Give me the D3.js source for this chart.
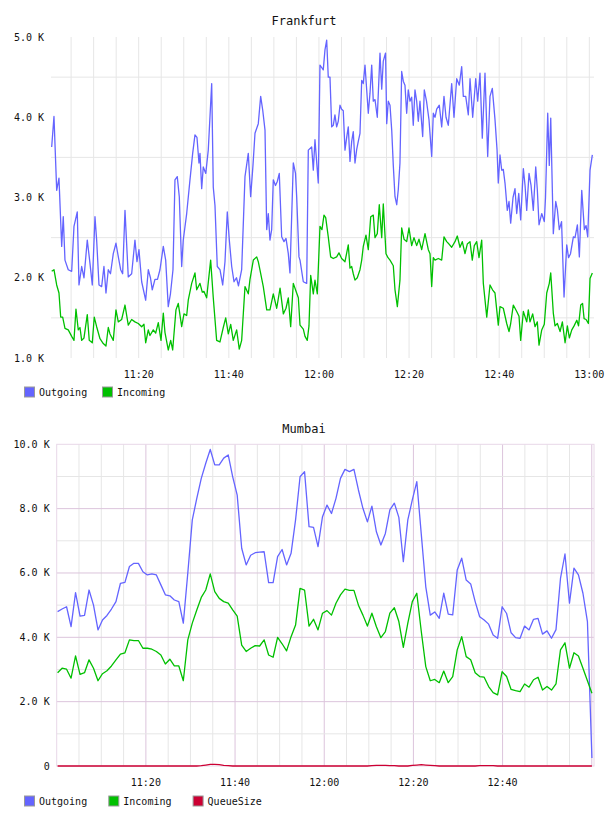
<!DOCTYPE html>
<html>
<head>
<meta charset="utf-8">
<script src="https://cdn.jsdelivr.net/npm/d3@7"></script>
<style>
  body { margin: 0; background: #fff; }
  svg text { font-family: "DejaVu Sans Mono", monospace; fill: #111; }
</style>
</head>
<body>
<svg id="chart" width="608" height="816"></svg>
<script>
// ---- data (values in thousands, times in minutes after 11:00) ----

const ffOutTime = [0.69,1.20,1.80,2.31,2.91,3.26,3.64,4.37,5.13,5.64,6.37,6.75,7.35,7.86,8.59,9.19,9.70,10.30,10.67,11.19,
  11.78,12.29,12.74,13.25,13.74,14.36,14.96,15.51,16.00,16.44,16.96,17.69,18.44,19.17,19.62,20.06,20.66,21.55,22.13,22.61,
  23.01,23.61,24.17,24.72,25.46,25.99,26.56,27.05,27.61,28.05,28.56,29.01,29.54,29.89,30.65,31.38,31.98,32.49,32.93,33.38,
  33.60,33.98,34.33,34.89,35.44,36.20,36.55,36.93,37.44,38.04,38.64,39.15,39.66,40.11,40.64,41.15,41.70,42.14,42.85,43.59,
  44.32,44.85,45.36,45.81,46.54,47.07,47.52,48.03,48.41,48.76,49.13,49.51,49.87,50.36,50.76,51.20,51.73,52.24,52.69,53.20,
  53.57,54.31,54.80,55.06,55.57,55.80,56.53,57.28,57.64,58.39,58.75,59.12,59.85,60.23,60.60,60.96,61.34,61.72,62.07,62.45,
  62.83,63.18,63.55,63.93,64.29,64.67,65.04,65.40,65.78,66.16,66.51,66.89,67.27,67.62,68.00,68.38,68.73,69.11,69.49,69.84,
  70.22,70.60,70.95,71.33,71.71,72.06,72.44,72.95,73.55,73.93,74.28,74.78,75.04,75.39,75.77,76.15,76.50,76.88,77.26,77.61,
  77.98,78.36,78.72,79.09,79.47,79.82,80.20,80.58,80.93,81.31,81.69,82.05,82.42,83.02,83.38,83.87,84.42,85.02,85.38,85.76,
  86.13,86.71,87.24,87.75,88.20,88.71,89.46,89.97,90.57,91.15,91.68,92.04,92.57,93.15,93.53,94.12,94.79,95.23,95.74,96.25,
  96.85,97.45,97.96,98.47,99.07,99.52,99.80,100.18,100.56,100.91,101.29,101.80,102.18,102.55,103.07,103.51,103.89,104.34,104.77,105.36,
  105.74,106.11,106.62,107.07,107.57,108.11,108.46,108.84,109.44,110.01,110.28,110.77,111.12,111.44,112.01,112.55,112.91,113.34,113.84,114.39,
  114.99,115.39,115.83,116.46,116.83,117.35,117.79,118.32,118.90,119.28,119.65,120.16,120.67];
const ffOut = [3.63,4.01,3.09,3.24,2.39,2.76,2.22,2.10,2.08,2.64,2.82,1.91,2.14,2.00,2.47,2.18,1.91,2.76,2.47,1.91,
  1.89,2.14,1.81,2.10,2.05,2.30,2.43,2.25,2.10,2.05,2.84,2.01,2.05,2.47,2.20,2.35,1.95,1.72,2.10,2.00,
  1.85,1.98,1.98,2.10,2.39,2.22,1.64,1.80,2.10,3.22,3.26,3.01,2.14,2.47,2.80,3.22,3.55,3.78,3.75,3.43,
  3.55,3.11,3.38,3.30,3.59,4.42,3.13,2.90,2.14,2.10,1.91,2.20,2.82,2.47,2.14,1.95,2.00,1.90,2.10,3.26,
  3.55,3.01,3.40,3.80,3.92,4.26,4.09,3.84,2.60,2.80,2.47,2.60,3.22,3.15,3.20,3.30,2.51,2.45,2.49,2.30,
  2.06,3.43,3.30,3.01,2.26,2.22,1.95,1.93,3.59,3.63,3.34,3.72,3.18,4.65,4.62,4.59,4.84,4.96,4.50,4.50,
  3.88,3.90,4.03,3.88,3.95,4.15,4.10,4.08,3.59,3.75,3.88,3.45,3.70,3.82,3.43,3.60,3.70,3.80,4.46,4.42,
  4.65,4.34,4.05,4.30,4.65,4.20,4.22,4.00,4.80,4.35,4.70,4.80,3.92,4.20,4.15,3.84,3.40,3.01,2.91,3.10,
  3.43,4.57,4.45,4.40,4.05,4.34,4.20,4.25,3.90,4.34,4.20,3.95,4.20,3.76,4.34,4.20,3.97,3.51,4.05,4.00,
  4.10,4.15,3.88,4.26,4.00,3.90,4.42,4.00,4.48,4.40,4.63,4.26,4.26,4.03,4.48,4.00,4.48,4.20,4.55,3.74,
  4.55,3.51,4.26,4.36,3.97,3.60,3.18,3.53,3.34,3.35,3.18,2.84,2.95,2.68,3.00,3.11,2.80,3.05,2.72,3.36,
  3.15,2.84,3.30,3.15,2.84,3.38,3.10,2.66,2.80,2.70,3.00,4.05,3.40,3.99,2.55,2.95,2.85,2.60,2.70,1.76,
  2.41,2.25,2.30,2.51,2.50,2.66,2.26,3.09,2.60,2.65,2.51,3.34,3.53];

const ffInTime = [0.69,1.20,1.80,2.31,2.69,3.13,3.64,4.37,5.13,5.64,6.08,6.59,6.97,7.35,7.86,8.59,9.03,9.70,10.14,10.67,
  11.41,12.14,12.74,13.25,13.63,14.36,14.96,15.47,16.22,16.96,17.69,18.44,19.17,19.91,20.66,21.17,21.55,22.13,22.50,23.24,
  23.77,24.35,24.95,25.46,25.83,26.56,27.10,27.54,28.27,28.78,29.54,30.05,30.65,31.00,31.76,32.49,32.87,33.60,34.11,34.49,
  35.08,35.97,36.55,37.30,38.04,38.77,39.31,39.89,40.42,40.99,41.74,42.32,42.85,43.59,44.32,44.70,45.44,46.19,46.54,46.90,
  47.65,48.41,49.13,49.87,50.63,51.37,52.10,52.69,53.20,53.73,54.31,54.80,55.43,55.80,56.53,56.91,57.41,57.79,58.17,58.75,
  59.12,59.64,60.23,60.67,61.12,61.50,62.07,62.60,63.18,63.93,64.44,65.04,65.78,66.51,66.89,67.27,67.62,68.00,68.51,69.11,
  69.49,69.84,70.44,70.95,71.49,72.06,72.44,72.95,73.39,73.93,74.28,74.88,75.33,75.77,76.50,76.88,77.40,77.98,78.36,78.88,
  79.47,79.98,80.58,81.09,81.69,82.20,82.80,83.54,84.27,84.65,85.02,85.38,85.76,86.49,87.24,87.75,88.35,88.86,89.46,90.19,
  90.70,91.30,91.81,92.41,92.92,93.52,94.03,94.48,95.01,95.52,96.12,96.48,97.24,97.96,98.52,99.07,99.80,100.18,100.91,101.67,
  102.18,102.55,103.13,103.89,104.40,104.77,105.36,106.11,106.46,106.84,107.43,107.95,108.46,108.84,109.44,110.01,110.55,111.12,111.44,112.01,
  112.39,112.91,113.51,114.02,114.62,115.13,115.57,116.11,116.62,117.22,117.61,118.10,118.50,118.84,119.28,119.79,120.16,120.67];
const ffIn = [2.08,2.10,1.91,1.81,1.51,1.51,1.37,1.35,1.27,1.22,1.61,1.35,1.38,1.22,1.25,1.54,1.22,1.19,1.51,1.39,
  1.24,1.18,1.15,1.38,1.30,1.22,1.60,1.45,1.48,1.66,1.41,1.48,1.45,1.43,1.39,1.42,1.19,1.35,1.28,1.35,
  1.31,1.44,1.22,1.56,1.32,1.10,1.22,1.10,1.60,1.68,1.39,1.55,1.53,1.72,1.93,2.06,1.85,1.93,1.82,1.83,
  1.75,2.22,1.75,1.22,1.20,1.38,1.50,1.30,1.42,1.22,1.35,1.11,1.22,1.89,1.80,1.98,2.22,2.26,2.20,2.10,
  1.89,1.60,1.60,1.80,1.62,1.87,1.55,1.62,1.75,1.39,1.93,1.85,1.75,1.41,1.36,1.27,1.22,1.40,2.03,1.80,
  1.97,1.80,2.64,2.60,2.78,2.75,2.51,2.26,2.24,2.26,2.31,2.24,2.20,2.41,2.12,2.14,2.05,1.97,2.00,2.10,
  2.22,2.39,2.53,2.35,2.76,2.78,2.50,2.55,2.91,2.50,2.92,2.30,2.25,2.22,2.15,1.85,1.64,1.97,2.62,2.48,
  2.45,2.62,2.40,2.50,2.40,2.48,2.35,2.55,2.35,2.30,1.89,2.25,2.22,2.24,2.22,2.51,2.45,2.42,2.38,2.45,
  2.52,2.38,2.45,2.30,2.42,2.45,2.22,2.40,2.45,2.25,2.47,1.93,1.51,1.91,1.85,1.81,1.41,1.64,1.62,1.43,
  1.33,1.43,1.66,1.58,1.52,1.22,1.58,1.45,1.60,1.45,1.55,1.39,1.45,1.16,1.35,1.42,1.81,1.93,2.06,1.56,
  1.40,1.43,1.33,1.45,1.19,1.40,1.25,1.35,1.40,1.47,1.40,1.66,1.68,1.49,1.48,1.43,1.99,2.06];

// Mumbai: one sample roughly every minute, first one at 11:00:12
const mbStart = 0.2;
const mbStep = 1.007;
const mbOut = [4.80,4.88,4.95,4.33,5.39,4.66,4.68,5.47,5.00,4.23,
  4.54,4.68,4.88,5.11,5.68,5.71,6.20,6.30,6.30,6.04,
  5.94,5.97,5.94,5.63,5.32,5.29,5.16,5.11,4.44,6.00,
  7.65,8.32,8.94,9.41,9.84,9.36,9.36,9.57,9.67,8.99,
  8.42,6.77,6.25,6.55,6.63,6.65,6.66,5.70,5.70,6.51,
  6.73,6.25,6.61,7.65,8.99,9.15,7.44,7.42,6.82,7.75,
  8.11,7.85,8.32,8.94,9.22,9.15,9.22,8.58,8.01,7.59,
  8.08,7.28,6.87,7.23,7.96,8.17,7.73,6.35,7.65,8.27,
  8.84,7.20,5.57,4.69,4.79,4.59,5.37,4.72,4.70,6.09,
  6.46,5.78,5.66,5.11,4.64,4.54,4.41,4.07,3.97,4.95,
  4.74,4.14,3.99,3.97,4.35,4.23,4.56,4.59,4.10,4.20,
  3.97,4.24,5.83,6.59,5.06,6.15,5.94,5.37,4.49,0.25];
const mbIn = [2.90,3.04,3.01,2.73,3.42,2.85,2.90,3.30,3.04,2.65,
  2.87,2.96,3.11,3.30,3.48,3.52,3.92,3.90,3.90,3.66,
  3.66,3.63,3.56,3.45,3.17,3.32,3.11,3.11,2.65,3.92,
  4.44,4.85,5.24,5.47,5.97,5.42,5.21,5.11,5.06,4.85,
  4.66,3.76,3.56,3.66,3.74,3.73,3.92,3.45,3.38,4.00,
  3.80,3.58,4.02,4.38,5.52,5.47,4.35,4.56,4.23,4.75,
  4.83,4.69,5.06,5.32,5.50,5.46,5.46,5.00,4.69,4.35,
  4.75,4.33,3.99,4.18,4.75,4.92,4.49,3.69,4.44,5.11,
  5.37,4.18,3.09,2.65,2.69,2.59,2.95,2.59,2.78,3.61,
  4.02,3.40,3.30,2.90,2.78,2.76,2.47,2.28,2.21,2.93,
  2.78,2.38,2.34,2.31,2.55,2.45,2.68,2.76,2.36,2.47,
  2.36,2.55,3.61,3.83,3.04,3.52,3.42,3.04,2.65,2.26];
const mbQueue = [0,0,0,0,0,0,0,0,0,0,
  0,0,0,0,0,0,0,0,0,0,
  0,0,0,0,0,0,0,0,0,0,
  0,0,0.01,0.03,0.05,0.05,0.04,0.02,0.01,0,
  0,0,0,0,0,0,0,0,0,0,
  0,0,0,0,0,0,0,0,0,0,
  0,0,0,0,0,0,0,0,0,0,
  0.01,0.02,0.02,0.02,0.01,0.01,0,0,0,0.02,
  0.03,0.04,0.03,0.02,0.01,0,0,0,0,0,
  0,0,0,0,0.01,0.01,0.01,0.01,0,0,
  0,0,0,0,0,0,0,0,0,0,
  0,0,0,0,0,0,0,0,0,0];

const timeLabelsFF = ["11:20","11:40","12:00","12:20","12:40","13:00"];
const timeLabelsMB = ["11:20","11:40","12:00","12:20","12:40"];

const colOut = "#6464ff", colIn = "#00c000", colQueue = "#cc0033";

// ---- drawing ----

const svg = d3.select('#chart');
const base = new Date(1900, 0, 1, 11, 0);
const toDate = m => new Date(base.getTime() + m * 60000);
const parseHM = d3.timeParse("%H:%M");
const fmtK = v => v === 0 ? "0" : v.toFixed(1) + " K";

function makeChart(o) {
  const g = svg.append('g');
  const x = d3.scaleTime().domain(o.xDom.map(toDate)).range([o.left, o.right]);
  const y = d3.scaleLinear().domain(o.yDom).range([o.bottom, o.top]);

  g.append('text')
    .attr('x', 304).attr('y', o.titleY)
    .attr('text-anchor', 'middle')
    .style('font-size', '12px')
    .text(o.title);

  // grid
  const grid = g.append('g');
  const fiveMin = d3.timeMinute.every(5).range(toDate(1), toDate(o.xDom[1]));
  grid.selectAll('line.v').data(fiveMin).join('line')
    .attr('x1', d => x(d)).attr('x2', d => x(d))
    .attr('y1', o.top).attr('y2', o.bottom)
    .attr('stroke', d => o.majorCol && d.getMinutes() % 20 === 0 ? o.majorCol : '#e6e6e6')
    .attr('stroke-width', 1);
  grid.selectAll('line.h').data(o.hGrid).join('line')
    .attr('x1', o.left).attr('x2', o.right)
    .attr('y1', d => y(d)).attr('y2', d => y(d))
    .attr('stroke', d => o.majorCol && d % 2 === 0 ? o.majorCol : '#e6e6e6')
    .attr('stroke-width', 1);
  if (o.border) {
    grid.append('rect')
      .attr('x', o.left).attr('y', o.top)
      .attr('width', o.right - o.left).attr('height', o.bottom - o.top)
      .attr('fill', 'none').attr('stroke', o.border);
  }

  // axes labels
  g.selectAll('text.yl').data(o.yTicks).join('text')
    .attr('x', o.left - 7).attr('y', d => y(d)).attr('dy', '0.35em')
    .attr('text-anchor', 'end').style('font-size', '10px')
    .text(fmtK);
  g.selectAll('text.xl').data(o.xLabels).join('text')
    .attr('x', d => x(parseHM(d))).attr('y', o.bottom + 19.5)
    .attr('text-anchor', 'middle').style('font-size', '10px')
    .text(d => d);

  // lines
  const line = d3.line().x(d => x(toDate(d[0]))).y(d => y(d[1]));
  o.series.forEach(s => {
    g.append('path')
      .datum(d3.zip(s.t, s.v))
      .attr('d', line)
      .attr('fill', 'none')
      .attr('stroke', s.color)
      .attr('stroke-width', 1.3)
      .attr('stroke-linejoin', 'round');
  });

  // legend
  const lg = g.append('g');
  o.series.forEach((s, i) => {
    const lx = 24 + i * o.legendStep;
    lg.append('rect')
      .attr('x', lx + 0.5).attr('y', o.legendY + 0.5)
      .attr('width', 10).attr('height', 10)
      .attr('fill', s.color).attr('stroke', '#999');
    lg.append('text')
      .attr('x', lx + 15).attr('y', o.legendY + 9.5)
      .style('font-size', '10px')
      .text(s.name);
  });
}

makeChart({
  title: 'Frankfurt', titleY: 24.5,
  left: 51, right: 594, top: 37, bottom: 358,
  xDom: [0.54, 121.04], yDom: [1, 5],
  yTicks: [1, 2, 3, 4, 5], hGrid: [1.5, 2.5, 3.5, 4.5],
  xLabels: timeLabelsFF,
  legendY: 386.5, legendStep: 78,
  series: [
    {name: 'Outgoing', color: colOut, t: ffOutTime, v: ffOut},
    {name: 'Incoming', color: colIn, t: ffInTime, v: ffIn}
  ]
});

const mbTime = mbOut.map((d, i) => mbStart + i * mbStep);

makeChart({
  title: 'Mumbai', titleY: 433,
  left: 56.7, right: 594, top: 444.3, bottom: 766,
  xDom: [0, 120.5], yDom: [0, 10],
  yTicks: [0, 2, 4, 6, 8, 10], hGrid: [1, 2, 3, 4, 5, 6, 7, 8, 9],
  majorCol: '#dcc4dc', border: '#e8d8e8',
  xLabels: timeLabelsMB,
  legendY: 795.5, legendStep: 84.3,
  series: [
    {name: 'Outgoing', color: colOut, t: mbTime, v: mbOut},
    {name: 'Incoming', color: colIn, t: mbTime, v: mbIn},
    {name: 'QueueSize', color: colQueue, t: mbTime, v: mbQueue}
  ]
});
</script>
</body>
</html>
